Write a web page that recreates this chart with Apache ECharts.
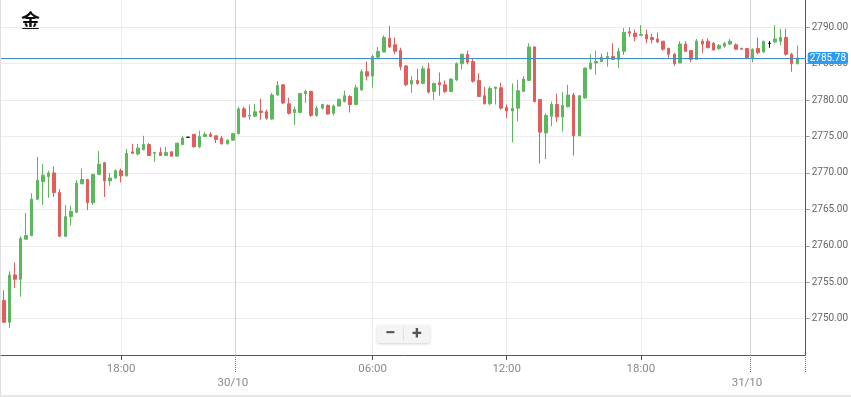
<!DOCTYPE html>
<html>
<head>
<meta charset="utf-8">
<style>
  html, body { margin: 0; padding: 0; background: #ffffff; }
  #chart { width: 851px; height: 397px; }
</style>
</head>
<body>
<div id="chart"></div>
<script src="https://cdn.jsdelivr.net/npm/echarts@6.0.0/dist/echarts.min.js"></script>
<script>
// 15 minute candles
const opens = [
  2752.5, 2749.5, 2756.0, 2755.4, 2760.9, 2761.4, 2766.4, 2768.8, 2769.5, 2770.0,
  2767.3, 2761.3, 2764.0, 2764.6, 2768.5, 2769.1, 2765.9, 2769.8, 2771.4, 2768.9,
  2769.3, 2770.3, 2769.6, 2772.9, 2772.6, 2773.2, 2773.9, 2772.7, 2772.8, 2772.4,
  2772.9, 2772.3, 2773.9, 2774.9, 2775.3, 2773.6, 2775.0, 2775.3, 2775.1, 2774.8,
  2774.0, 2774.5, 2775.4, 2778.8, 2777.8, 2777.8, 2778.5, 2778.4, 2777.4, 2780.7,
  2782.1, 2779.5, 2778.3, 2778.3, 2780.9, 2781.2, 2777.9, 2778.9, 2779.3, 2778.2,
  2779.2, 2779.8, 2780.5, 2779.4, 2781.4, 2783.9, 2783.3, 2785.9, 2786.6, 2788.5,
  2787.6, 2786.8, 2784.7, 2782.2, 2782.7, 2782.3, 2784.3, 2781.2, 2782.4, 2782.1,
  2781.2, 2782.8, 2785.0, 2786.3, 2785.3, 2782.7, 2780.6, 2779.5, 2781.6, 2781.7,
  2779.0, 2778.5, 2778.9, 2781.2, 2782.7, 2787.3, 2780.1, 2775.5, 2777.8, 2779.4,
  2777.7, 2779.1, 2780.7, 2775.1, 2780.3, 2784.3, 2785.1, 2785.3, 2785.8, 2786.0,
  2785.6, 2786.7, 2789.4, 2789.2, 2788.9, 2789.0, 2788.6, 2788.4, 2788.1, 2787.1,
  2786.3, 2785.1, 2787.7, 2786.8, 2785.6, 2788.1, 2788.1, 2787.8, 2787.1, 2787.4,
  2787.7, 2787.6, 2787.1, 2787.1, 2785.8, 2787.1, 2786.6, 2787.8, 2788.0, 2788.1,
  2788.6, 2786.3, 2785.0
];
const closes = [
  2749.5, 2756.0, 2755.4, 2761.0, 2761.4, 2766.4, 2769.0, 2769.7, 2770.0, 2767.3,
  2761.3, 2764.0, 2764.7, 2768.6, 2769.1, 2765.9, 2769.8, 2771.2, 2768.9, 2769.3,
  2770.3, 2769.6, 2772.7, 2772.7, 2773.4, 2773.9, 2772.4, 2772.8, 2772.4, 2772.8,
  2772.3, 2774.1, 2774.8, 2774.9, 2773.6, 2775.0, 2775.3, 2775.0, 2774.6, 2774.0,
  2774.5, 2775.4, 2778.8, 2777.7, 2777.9, 2778.4, 2778.3, 2777.5, 2780.7, 2782.0,
  2779.6, 2778.2, 2778.7, 2780.9, 2781.2, 2777.9, 2778.9, 2779.4, 2778.1, 2779.2,
  2780.1, 2780.6, 2779.4, 2781.7, 2783.9, 2783.3, 2786.0, 2786.7, 2788.6, 2787.3,
  2786.7, 2784.6, 2782.1, 2782.7, 2782.3, 2784.3, 2781.1, 2782.3, 2782.1, 2781.2,
  2782.9, 2785.0, 2786.3, 2785.2, 2782.6, 2780.5, 2779.5, 2781.6, 2781.8, 2778.9,
  2778.5, 2778.9, 2781.3, 2782.9, 2787.3, 2779.8, 2775.6, 2777.9, 2779.4, 2777.7,
  2779.3, 2780.7, 2775.1, 2780.6, 2784.4, 2785.1, 2785.3, 2785.9, 2786.0, 2785.6,
  2786.7, 2789.3, 2789.2, 2788.7, 2789.0, 2788.4, 2788.3, 2788.0, 2787.0, 2786.3,
  2785.0, 2787.7, 2786.7, 2785.6, 2788.1, 2787.7, 2787.2, 2786.9, 2787.5, 2787.8,
  2788.1, 2787.0, 2787.0, 2785.8, 2787.0, 2786.5, 2788.1, 2787.8, 2788.4, 2788.6,
  2786.3, 2785.0, 2785.78
];
const lows = [
  2749.4, 2748.7, 2754.2, 2753.0, 2760.9, 2761.3, 2766.3, 2765.6, 2766.6, 2766.7,
  2761.2, 2761.2, 2762.8, 2764.5, 2768.5, 2764.9, 2765.6, 2769.7, 2766.7, 2768.2,
  2769.2, 2768.7, 2769.5, 2772.6, 2772.4, 2773.1, 2772.3, 2771.5, 2772.4, 2772.4,
  2772.3, 2772.3, 2773.8, 2774.9, 2773.5, 2773.4, 2774.9, 2774.9, 2774.1, 2773.9,
  2773.9, 2774.4, 2775.3, 2777.6, 2777.3, 2777.7, 2777.3, 2777.3, 2777.3, 2780.6,
  2779.5, 2778.0, 2776.6, 2778.2, 2779.6, 2777.7, 2777.7, 2778.7, 2778.0, 2777.9,
  2779.1, 2779.7, 2778.3, 2779.3, 2781.3, 2782.7, 2781.7, 2785.7, 2786.6, 2787.2,
  2786.3, 2784.1, 2781.9, 2781.0, 2782.1, 2782.2, 2780.9, 2780.0, 2780.6, 2781.0,
  2781.1, 2782.6, 2784.2, 2784.9, 2782.4, 2780.4, 2779.4, 2779.3, 2779.4, 2778.7,
  2777.5, 2774.2, 2777.1, 2781.1, 2782.6, 2779.7, 2771.3, 2771.9, 2776.4, 2777.0,
  2775.7, 2779.0, 2772.4, 2775.1, 2780.2, 2784.2, 2783.5, 2785.2, 2784.6, 2785.5,
  2784.4, 2786.2, 2788.7, 2788.1, 2788.9, 2787.8, 2787.8, 2787.8, 2786.8, 2785.8,
  2784.7, 2785.1, 2786.6, 2785.2, 2785.5, 2786.5, 2787.1, 2786.8, 2786.9, 2787.2,
  2787.6, 2786.9, 2786.9, 2785.6, 2785.2, 2786.3, 2786.5, 2787.2, 2787.8, 2787.5,
  2786.1, 2783.9, 2784.9
];
const highs = [
  2753.9, 2756.5, 2757.7, 2761.3, 2764.5, 2767.2, 2772.2, 2771.2, 2770.3, 2770.9,
  2767.8, 2765.6, 2765.5, 2769.0, 2770.6, 2769.2, 2769.9, 2773.0, 2771.5, 2770.0,
  2770.5, 2770.6, 2773.3, 2774.0, 2774.0, 2775.1, 2774.1, 2772.8, 2773.5, 2773.6,
  2773.0, 2774.1, 2775.1, 2774.9, 2775.3, 2775.8, 2775.6, 2775.6, 2775.1, 2775.1,
  2774.6, 2775.5, 2779.1, 2779.1, 2779.4, 2779.5, 2780.2, 2778.7, 2781.0, 2782.6,
  2782.2, 2780.3, 2779.1, 2781.0, 2781.4, 2781.3, 2779.2, 2779.5, 2779.4, 2779.4,
  2780.2, 2781.3, 2780.7, 2782.1, 2784.2, 2785.3, 2786.2, 2787.3, 2788.9, 2790.2,
  2788.6, 2787.2, 2784.8, 2783.3, 2784.3, 2784.7, 2785.1, 2782.4, 2783.8, 2782.7,
  2783.0, 2785.2, 2786.4, 2786.8, 2785.7, 2783.7, 2781.8, 2781.9, 2781.8, 2782.4,
  2779.4, 2782.3, 2782.8, 2783.3, 2787.8, 2787.4, 2780.1, 2778.2, 2779.8, 2780.9,
  2781.1, 2782.1, 2781.0, 2780.7, 2784.5, 2786.3, 2786.8, 2786.4, 2786.6, 2787.8,
  2787.2, 2789.9, 2790.0, 2789.7, 2790.3, 2789.7, 2789.1, 2789.3, 2788.1, 2787.2,
  2786.5, 2788.1, 2788.1, 2786.9, 2788.4, 2788.4, 2788.5, 2788.0, 2787.7, 2788.0,
  2788.4, 2787.8, 2787.2, 2787.1, 2787.1, 2788.6, 2788.1, 2788.1, 2790.3, 2789.8,
  2789.8, 2786.5, 2787.5
];
const lastPrice = 2785.78;

// slots on the time axis (one spare at the right edge)
const slotCount = 144;
const categories = Array.from({ length: slotCount }, (_, i) => String(i));

// tick labels: hour marks sit on a candle, day marks on the gap before it
const hourTickIdx = [21, 66, 90, 114];
const hourTickText = ["18:00", "06:00", "12:00", "18:00"];
const dayTickIdx = [42, 134];
const dayLabelIdx = [41, 133];
const dayTickText = ["30/10", "31/10"];

const upColor = "#5cb85c";
const downColor = "#e35d5d";

const candles = opens.map((o, i) => [o, closes[i], lows[i], highs[i]]);

const chart = echarts.init(document.getElementById("chart"));
const option = {
  animation: false,
  backgroundColor: "#ffffff",
  textStyle: { fontFamily: "Roboto" },
  grid: { left: 1, right: 44, top: 0, bottom: 42 },
  xAxis: [
    {
      type: "category",
      data: categories,
      boundaryGap: true,
      axisLine: { lineStyle: { color: "#555555", width: 1 } },
      axisTick: {
        show: true,
        alignWithLabel: true,
        length: 5,
        interval: i => hourTickIdx.includes(i),
        lineStyle: { color: "#555555" }
      },
      axisLabel: {
        interval: i => hourTickIdx.includes(i),
        formatter: v => hourTickText[hourTickIdx.indexOf(Number(v))] || "",
        color: "#8a8a8a",
        fontSize: 11.5,
        margin: 8
      },
      splitLine: {
        show: true,
        alignWithLabel: true,
        interval: i => hourTickIdx.includes(i),
        lineStyle: { color: "#ececec" }
      }
    },
    {
      type: "category",
      data: categories,
      boundaryGap: true,
      position: "bottom",
      axisLine: { show: false },
      axisTick: {
        show: true,
        length: 18,
        interval: i => dayTickIdx.includes(i),
        lineStyle: { color: "#777777", type: "dotted" }
      },
      axisLabel: {
        interval: i => dayLabelIdx.includes(i),
        formatter: v => dayTickText[dayLabelIdx.indexOf(Number(v))] || "",
        color: "#8a8a8a",
        fontSize: 11.5,
        margin: 22
      },
      splitLine: {
        show: true,
        interval: i => dayTickIdx.includes(i),
        lineStyle: { color: "#d4d4d4" }
      }
    }
  ],
  yAxis: {
    type: "value",
    position: "right",
    min: 2745,
    max: 2793.75,
    interval: 5,
    axisLine: { show: true, lineStyle: { color: "#555555" } },
    axisTick: { show: true, length: 4, lineStyle: { color: "#999999" } },
    axisLabel: {
      color: "#666666",
      fontSize: 10,
      margin: 6,
      showMinLabel: false,
      showMaxLabel: false,
      formatter: v => v.toFixed(2)
    },
    splitLine: {
      show: true,
      showMinLine: false,
      showMaxLine: false,
      lineStyle: { color: "#ececec" }
    }
  },
  series: [
    {
      type: "candlestick",
      xAxisIndex: 0,
      data: candles,
      barWidth: 3,
      itemStyle: {
        color: upColor,
        color0: downColor,
        borderColor: upColor,
        borderColor0: downColor,
        borderColorDoji: "#000000",
        borderWidth: 1
      },
      markLine: {
        silent: true,
        symbol: ["none", "none"],
        lineStyle: { color: "#3b8fc4", width: 1, type: "solid" },
        label: {
          show: true,
          position: "end",
          distance: 2,
          formatter: lastPrice.toFixed(2),
          color: "#ffffff",
          fontSize: 10,
          backgroundColor: "#2d9bf0",
          padding: [1, 2, 1, 2],
          borderRadius: 3
        },
        data: [{ yAxis: lastPrice }]
      }
    }
  ],
  graphic: [
    { type: "rect", left: 0, top: 0, shape: { width: 1, height: 397 }, style: { fill: "#e0e0e0" } },
    { type: "rect", left: 0, top: 395, shape: { width: 851, height: 2 }, style: { fill: "#e6e6e6" } },
    {
      type: "text",
      left: 21,
      top: 11,
      style: { text: "金", font: "bold 19px 'Noto Sans CJK SC'", fill: "#111111" }
    },
    {
      type: "group",
      left: 377,
      top: 325,
      children: [
        {
          type: "rect",
          shape: { x: 0, y: 0, width: 53, height: 18, r: 2 },
          style: { fill: "#f4f4f4", shadowBlur: 3, shadowOffsetY: 1, shadowColor: "rgba(0,0,0,0.18)" }
        },
        { type: "rect", shape: { x: 26, y: 2, width: 1, height: 14 }, style: { fill: "#e0e0e0" } },
        {
          type: "text",
          style: { x: 13.5, y: 9.5, text: "−", font: "bold 19px Roboto", fill: "#555555", align: "center", verticalAlign: "middle" }
        },
        {
          type: "text",
          style: { x: 40, y: 9.5, text: "+", font: "bold 18px Roboto", fill: "#555555", align: "center", verticalAlign: "middle" }
        }
      ]
    }
  ]
};
chart.setOption(option);
</script>
</body>
</html>
